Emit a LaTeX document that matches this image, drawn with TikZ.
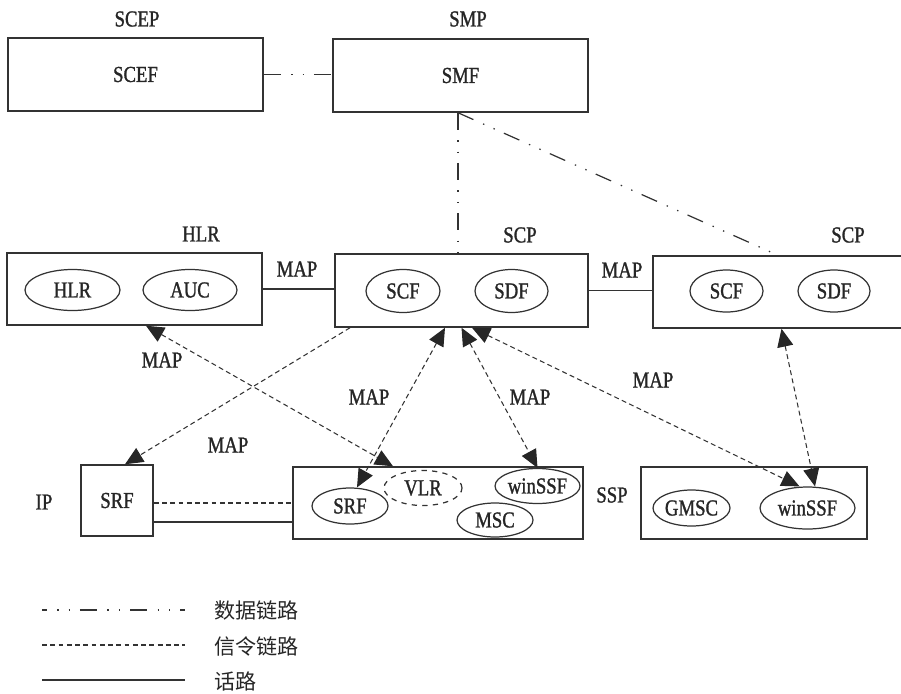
\documentclass[tikz,border=0pt]{standalone}
\usepackage{fontspec}
\setmainfont{Liberation Serif}[FakeStretch=0.82,FakeBold=1.2]
\newfontfamily\zhfont{Noto Sans CJK SC}
\usetikzlibrary{arrows.meta,shapes.geometric}

\begin{document}
\begin{tikzpicture}[x=0.02cm, y=-0.02cm,
  >={Triangle[length=0.36cm,width=0.32cm,open=false,color=black!85,fill=black!85]},
  every node/.style={font=\fontsize{13}{15}\selectfont, text=black!85},
  box/.style={draw=black!80, line width=0.85pt, rectangle, inner sep=0pt},
  fn/.style={draw=black!80, line width=0.7pt, ellipse, inner sep=0pt},
  datalink/.style={draw=black!80, line width=0.7pt,
    dash pattern=on 9.6pt off 6pt on 0.8pt off 5.7pt on 0.8pt off 5.7pt},
  siglink/.style={color=black!80, line width=0.6pt, dash pattern=on 2.8pt off 1.9pt},
  voice/.style={draw=black!80, line width=0.75pt},
  legtext/.style={anchor=west, font=\zhfont\fontsize{12}{14}\selectfont}]
  \useasboundingbox (0,0) rectangle (901,693);
  % SCEP and SMP
  \node[box, minimum width=5.10cm, minimum height=1.46cm] (scep) at (135.5,74.5) {SCEF};
  \node[box, minimum width=5.10cm, minimum height=1.46cm] (smp) at (460.5,75.5) {SMF};
  \node (scepl) at (137,19) {SCEP};
  \node (smpl) at (468,19) {SMP};
  % HLR and the two SCPs
  \node[box, minimum width=5.10cm, minimum height=1.44cm] (hlrbox) at (134.5,289) {};
  \node[box, minimum width=5.06cm, minimum height=1.46cm] (scp) at (461.5,290.5) {};
  \node[box, minimum width=5.14cm, minimum height=1.44cm] (scp2) at (781.5,292) {};
  \node (hlrl) at (201,234) {HLR};
  \node (scpl) at (520,235) {SCP};
  \node (scp2l) at (848,235) {SCP};
  \node[fn, minimum width=1.90cm, minimum height=0.82cm] (hlr) at (72.5,290) {HLR};
  \node[fn, minimum width=1.88cm, minimum height=0.82cm] (auc) at (190,290) {AUC};
  \node[fn, minimum width=1.48cm, minimum height=0.86cm] (scf) at (403,291) {SCF};
  \node[fn, minimum width=1.46cm, minimum height=0.86cm] (sdf) at (511.5,291) {SDF};
  \node[fn, minimum width=1.46cm, minimum height=0.84cm] (scf2) at (726.5,291) {SCF};
  \node[fn, minimum width=1.44cm, minimum height=0.84cm] (sdf2) at (834,291) {SDF};
  \node (mapa) at (297,269) {MAP};
  \node (mapb) at (622,270) {MAP};
  % IP, MSC and SSP
  \node[box, minimum width=1.44cm, minimum height=1.42cm] (ip) at (117,500.5) {SRF};
  \node[box, minimum width=5.80cm, minimum height=1.44cm] (msc) at (438,503) {};
  \node[box, minimum width=4.52cm, minimum height=1.44cm] (ssp) at (754,503) {};
  \node (ipl) at (44,502) {IP};
  \node (sspl) at (612,495) {SSP};
  \node[fn, minimum width=1.52cm, minimum height=0.72cm] (srf) at (350,506) {SRF};
  \node[fn, dashed, minimum width=1.56cm, minimum height=0.70cm] (vlr) at (423,488) {VLR};
  \node[fn, minimum width=1.70cm, minimum height=0.70cm] (mwin) at (537.5,486) {winSSF};
  \node[fn, minimum width=1.52cm, minimum height=0.68cm] (mscf) at (495,520) {MSC};
  \node[fn, minimum width=1.54cm, minimum height=0.72cm] (gmsc) at (691.5,508) {GMSC};
  \node[fn, minimum width=1.90cm, minimum height=0.84cm] (swin) at (807.5,508) {winSSF};
  \node (mapc) at (162,360) {MAP};
  \node (mapd) at (369,397) {MAP};
  \node (mape) at (228,445) {MAP};
  \node (mapf) at (530,397) {MAP};
  \node (mapg) at (653,380) {MAP};
  % data links
  \draw[datalink] (scep.east) -- (scep.east -| smp.west);
  \coordinate (smpfoot) at ([xshift=-0.05cm]smp.south);
  \draw[datalink] (smpfoot) -- (smpfoot |- scp.north);
  \draw[datalink] (smpfoot) -- ([xshift=-0.07cm]scp2.north);
  % voice links
  \draw[voice] (hlrbox.east) -- (hlrbox.east -| scp.west);
  \draw[voice] (scp.east) -- (scp.east -| scp2.west);
  % signalling links
  \draw[siglink, <->] ([xshift=0.23cm]hlrbox.south) -- ([xshift=-0.9cm]msc.north);
  \draw[siglink, ->] ([xshift=-2.23cm]scp.south) -- ([xshift=0.16cm]ip.north);
  \draw[siglink, <->] ([xshift=-0.33cm]scp.south) -- ([xshift=0.14cm]srf.north);
  \draw[siglink, <->] (scp.south) -- (mwin.north);
  \draw[siglink, <->] ([xshift=0.21cm]scp.south) -- ([xshift=-0.16cm]swin.north);
  \draw[siglink, <->] (scp2.south) -- ([xshift=0.15cm]swin.north);
  % IP to MSC
  \coordinate (ipsig) at ([yshift=-0.05cm]ip.east);
  \coordinate (ipvoice) at ([yshift=-0.43cm]ip.east);
  \draw[siglink] (ipsig) -- (ipsig -| msc.west);
  \draw[voice] (ipvoice) -- (ipvoice -| msc.west);
  % legend
  \coordinate (lga) at (42,610);
  \coordinate (lgb) at (42,645);
  \coordinate (lgc) at (42,680);
  \draw[datalink, dash phase=7pt] (lga) -- ++(143,0);
  \draw[siglink] (lgb) -- ++(143,0);
  \draw[voice] (lgc) -- ++(143,0);
  \node[legtext] (lgta) at (208,610) {数据链路};
  \node[legtext] (lgtb) at (208,646) {信令链路};
  \node[legtext] (lgtc) at (208,681) {话路};
\end{tikzpicture}
\end{document}
